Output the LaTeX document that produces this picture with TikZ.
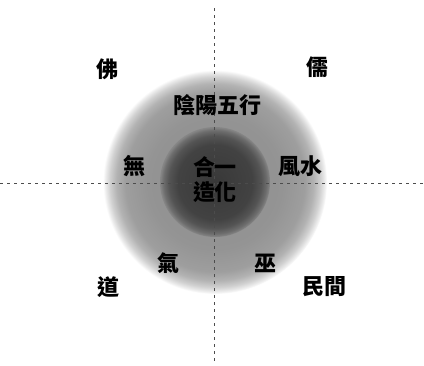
\documentclass[tikz,border=0pt]{standalone}
\usepackage{fontspec}
\newfontfamily\cjk{Noto Sans CJK TC}
\pgfdeclareradialshading{outerglow}{\pgfpoint{0bp}{0bp}}{color(0bp)=(black!45); color(15bp)=(black!42); color(20bp)=(black!38); color(22bp)=(black!30); color(23.5bp)=(black!18); color(24.5bp)=(black!7); color(25bp)=(white); color(50bp)=(white)}
\pgfdeclareradialshading{innercore}{\pgfpoint{0bp}{0bp}}{color(0bp)=(black!78); color(17bp)=(black!74); color(21bp)=(black!67); color(23.5bp)=(black!57); color(25bp)=(black!47); color(50bp)=(black!47)}
\tikzset{
  lbl/.style={font=\cjk\bfseries\fontsize{22}{22}\selectfont, inner sep=0pt, text=black},
  biglbl/.style={font=\cjk\bfseries\fontsize{22}{22}\selectfont, inner sep=0pt, text=black},
  axis/.style={draw=black!70, line width=0.8pt, dash pattern=on 3pt off 4pt}
}
\begin{document}
\begin{tikzpicture}[x=1pt,y=-1pt]
\useasboundingbox (0,0) rectangle (424,365);
\fill[white] (0,0) rectangle (424,365);
% disks
\shade[shading=outerglow] (215,182) circle (112);
\shade[shading=innercore] (215,182) circle (55);
% axes
\coordinate (top) at (214,8);
\coordinate (bottom) at (214,363);
\coordinate (left) at (0,183);
\coordinate (right) at (424,183);
\draw[axis] (left) -- (right);
\draw[axis] (top) -- (bottom);
% labels
\node[biglbl] (fo) at (107,69) {佛};
\node[biglbl] (ru) at (317,67) {儒};
\node[biglbl] (dao) at (108,287) {道};
\node[biglbl] (minjian) at (324,287) {民間};
\node[lbl] (yinyang) at (217,105) {陰陽五行};
\node[lbl] (wu) at (134,166) {無};
\node[lbl] (fengshui) at (300,166) {風水};
\node[lbl] (heyi) at (215,167) {合一};
\node[lbl] (zaohua) at (215,192) {造化};
\node[lbl] (qi) at (168,263) {氣};
\node[lbl] (wu2) at (265,263) {巫};
\end{tikzpicture}
\end{document}
